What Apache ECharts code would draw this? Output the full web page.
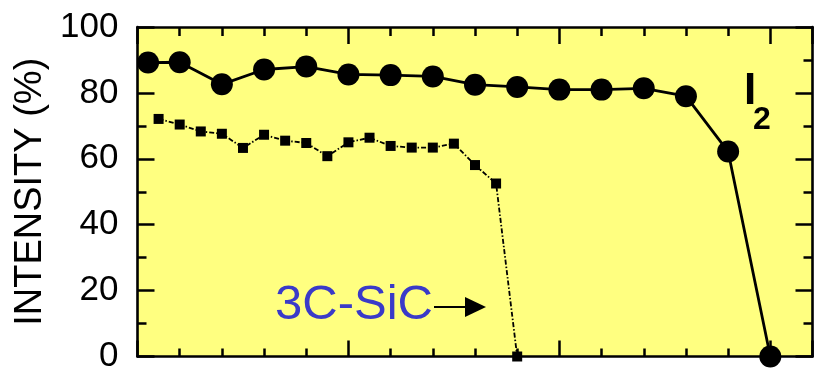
<!DOCTYPE html>
<html>
<head>
<meta charset="utf-8">
<script src="https://cdn.jsdelivr.net/npm/echarts@6/dist/echarts.min.js"></script>
<style>
html,body{margin:0;padding:0;background:#fff;}
#c{width:814px;height:374px;}
</style>
</head>
<body>
<div id="c"></div>
<script>
// I2 series (large circles): x position (in top-axis tick units), intensity %
var i2X = [0.25, 1, 2, 3, 4, 5, 6, 7, 8, 9, 10, 11, 12, 13, 14, 15];
var i2Y = [89.2, 89.3, 82.6, 87.1, 88.0, 85.6, 85.4, 85.0, 82.5, 81.8, 81.0, 81.0, 81.4, 79.0, 62.2, 0];
// 3C-SiC series (small squares)
var sicX = [0.5, 1, 1.5, 2, 2.5, 3, 3.5, 4, 4.5, 5, 5.5, 6, 6.5, 7, 7.5, 8, 8.5, 9];
var sicY = [72.1, 70.4, 68.3, 67.6, 63.3, 67.3, 65.5, 64.8, 60.8, 65.0, 66.4, 63.9, 63.4, 63.4, 64.6, 58.1, 52.5, 0];
var yTicks = [0, 20, 40, 60, 80, 100];
var yTitle = 'INTENSITY (%)';
var labelSiC = '3C-SiC';

var FONT = 'Arial, "Liberation Sans", sans-serif';
var chart = echarts.init(document.getElementById('c'));

function pairs(xs, ys){ return xs.map(function(x,i){ return [x, ys[i]]; }); }

function xAx(pos, interval, len, showLine){
  return {
    type:'value', position:pos, min:0, max:16, interval:interval,
    axisLine:{show:showLine, onZero:false, lineStyle:{color:'#000', width:2.6}},
    axisTick:{show:true, inside:true, length:len, lineStyle:{color:'#000', width:2.5}},
    axisLabel:{show:false}, splitLine:{show:false}
  };
}
function yAx(pos, showLabel){
  return {
    type:'value', position:pos, min:yTicks[0], max:yTicks[yTicks.length-1], interval:20,
    axisLine:{show:true, onZero:false, lineStyle:{color:'#000', width:2.6}},
    axisTick:{show:true, inside:true, length:17, lineStyle:{color:'#000', width:2.5}},
    minorTick:{show:true, splitNumber:2, length:9, lineStyle:{color:'#000', width:2.5}},
    axisLabel:{show:showLabel, margin:19, fontSize:35, color:'#000', fontFamily:FONT},
    splitLine:{show:false}, minorSplitLine:{show:false}
  };
}

var yLeft = yAx('left', true);
yLeft.name = yTitle;
yLeft.nameLocation = 'middle';
yLeft.nameGap = 87;
yLeft.nameTextStyle = {fontSize:38, color:'#000', fontFamily:FONT, lineHeight:38};

var option = {
  animation:false,
  backgroundColor:'#fff',
  grid:{left:137.5, right:1.5, top:27, bottom:12, show:true, backgroundColor:'#ffff80', borderWidth:0},
  xAxis:[xAx('bottom',1,8,true), xAx('bottom',5,16,false), xAx('top',1,9,true), xAx('top',5,17,false)],
  yAxis:[yLeft, yAx('right', false)],
  series:[
    {
      type:'line', xAxisIndex:0, yAxisIndex:0, data:pairs(sicX, sicY), clip:false,
      symbol:'rect', symbolSize:10, itemStyle:{color:'#000'},
      lineStyle:{color:'#000', width:1.8, type:[5,2,1.5,2]}, z:3
    },
    {
      type:'line', xAxisIndex:0, yAxisIndex:0, data:pairs(i2X, i2Y), clip:false,
      symbol:'circle', symbolSize:22, itemStyle:{color:'#000'},
      lineStyle:{color:'#000', width:2.8}, z:4
    }
  ],
  graphic:[
    {type:'text', left:744, top:70, z:10, style:{text:'I', font:'bold 44px ' + FONT, fill:'#000'}},
    {type:'text', left:753, top:104, z:10, style:{text:'2', font:'bold 32px ' + FONT, fill:'#000'}},
    {type:'text', left:275, top:281, z:10, style:{text:labelSiC, font:'49px ' + FONT, fill:'#3a3ac8'}},
    {type:'line', z:10, shape:{x1:434, y1:307, x2:468, y2:307}, style:{stroke:'#000', lineWidth:2}},
    {type:'polygon', z:10, shape:{points:[[465,297],[486,307],[465,317]]}, style:{fill:'#000'}}
  ]
};
chart.setOption(option);
</script>
</body>
</html>
